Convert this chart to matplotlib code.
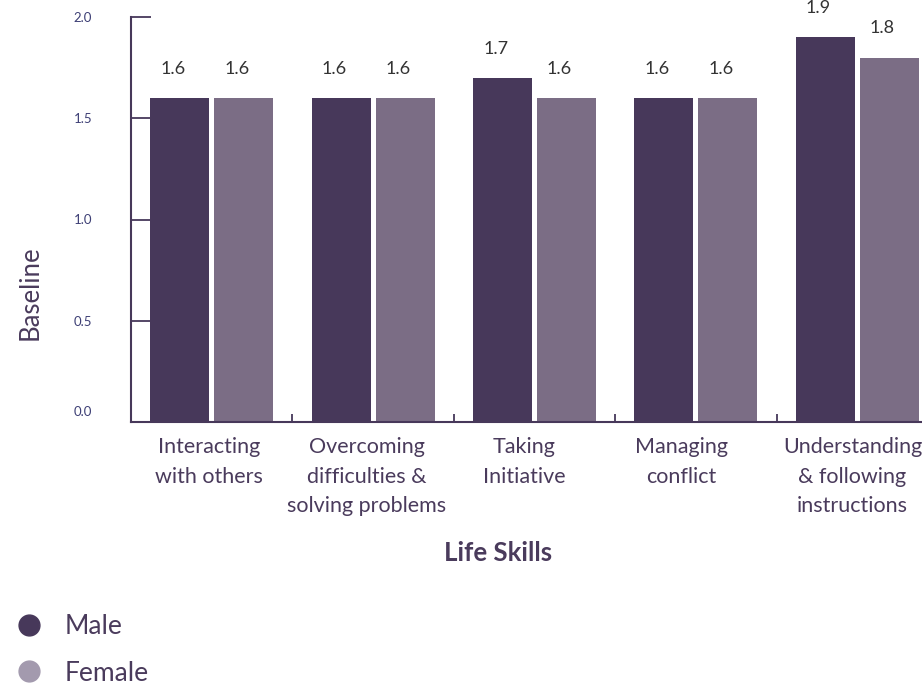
import matplotlib.pyplot as plt
import numpy as np
from matplotlib.lines import Line2D
from matplotlib.transforms import offset_copy

plt.rcParams['font.family'] = ['Lato', 'DejaVu Sans']

skills = ["Interacting\nwith others", "Overcoming\ndifficulties &\nsolving problems",
          "Taking\nInitiative", "Managing\nconflict", "Understanding\n& following\ninstructions"]
male = [1.6, 1.6, 1.7, 1.6, 1.9]
female = [1.6, 1.6, 1.6, 1.6, 1.8]
yticks = [0.0, 0.5, 1.0, 1.5, 2.0]

male_col = "#47385a"
female_col = "#7b6d85"
female_leg = "#a39aae"
txt = "#4a3b5c"
axcol = "#47385a"

fig = plt.figure(figsize=(9.22, 6.85), dpi=100)
ax = fig.add_axes([131/922, 1-422/685, (938-131)/922, (422-17)/685])

x = np.arange(len(skills))
w = 0.365
off = 0.198
b1 = ax.bar(x - off, male, w, color=male_col)
b2 = ax.bar(x + off, female, w, color=female_col)

for bars, vals in [(b1, male), (b2, female)]:
    for r, v in zip(bars, vals):
        ax.annotate(f"{v:.1f}", (r.get_x() + r.get_width()/2, v), xytext=(-5, 21),
                    textcoords="offset points", ha="center", va="center",
                    fontsize=13, color="#333333", annotation_clip=False)

ax.set_xlim(-0.5, 4.5)
ax.set_ylim(0, 2.0)
for s in ["top", "right"]:
    ax.spines[s].set_visible(False)
for s in ["left", "bottom"]:
    ax.spines[s].set_color(axcol)
    ax.spines[s].set_linewidth(1.5)

ax.set_yticks(yticks)
ax.set_yticklabels([f"{t:.1f}" for t in yticks])
ax.tick_params(axis="y", direction="in", length=14.5, width=1.3, color=axcol,
               pad=28, labelsize=9.5, labelcolor="#3d3f75")
ax.yaxis.get_major_ticks()[2].tick1line.set_color("#2a6a9a")
lab0 = ax.get_yticklabels()[0]
lab0.set_transform(offset_copy(lab0.get_transform(), fig=fig, x=0, y=8, units="points"))

ax.set_xticks(x[:-1] + 0.5)
ax.set_xticklabels([])
ax.tick_params(axis="x", direction="in", length=6, width=1.3, color=axcol)
# category labels sit slightly left of the bar groups in the original
lab_x = x * 0.976 - 0.017
lab_x[-1] = x[-1] - 0.03
for lx, lab in zip(lab_x, skills):
    ax.annotate(lab, (lx, 0), xytext=(0, -11), textcoords="offset points",
                ha="center", va="top", fontsize=15.5,
                color=txt, linespacing=1.6, annotation_clip=False)

fig.text(30/922, 1-293/685, "Baseline", fontsize=18.5, color=txt, rotation=90,
         ha="center", va="center")
fig.text(498/922, 1-553/685, "Life Skills", fontsize=18.5, fontweight="bold",
         color=txt, ha="center", va="center")

handles = [Line2D([], [], marker="o", linestyle="", markersize=15, color=male_col),
           Line2D([], [], marker="o", linestyle="", markersize=15, color=female_leg)]
fig.legend(handles, ["Male", "Female"], loc="upper left", bbox_to_anchor=(-0.01, 1-596/685),
           frameon=False, fontsize=19, labelcolor=txt, handletextpad=0.6,
           labelspacing=0.8, borderaxespad=0.3, handlelength=1.5)

fig.savefig("out.png", dpi=100)
